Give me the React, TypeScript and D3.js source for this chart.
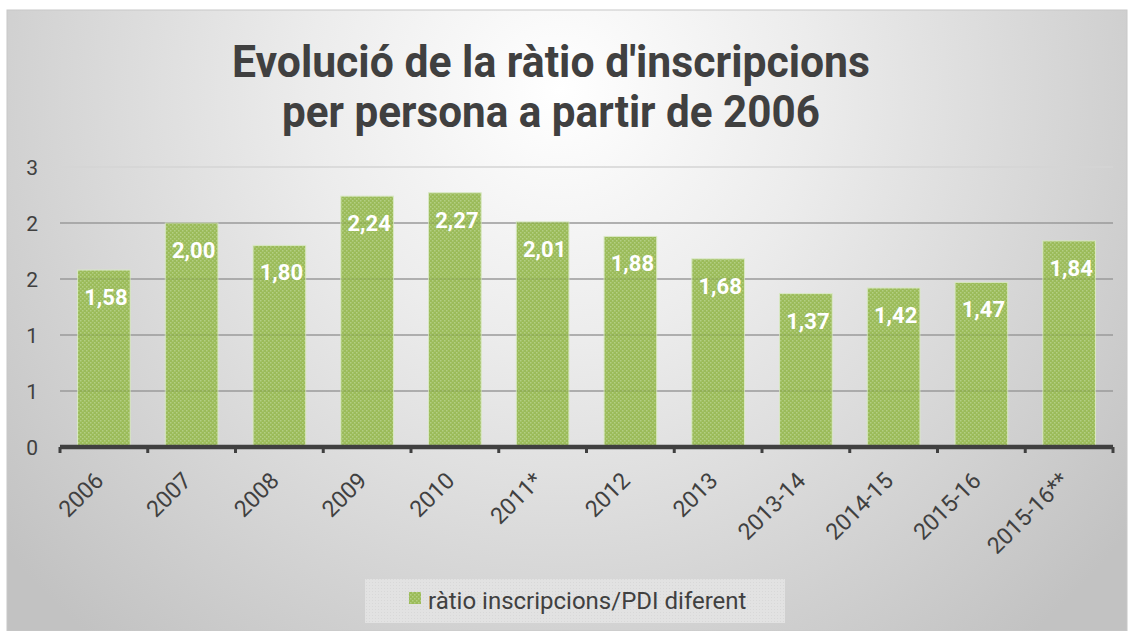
import React from "react";
import * as d3 from "d3";

const categories = ["2006", "2007", "2008", "2009", "2010", "2011*", "2012", "2013", "2013-14", "2014-15", "2015-16", "2015-16**"];
const values = [1.58, 2.0, 1.8, 2.24, 2.27, 2.01, 1.88, 1.68, 1.37, 1.42, 1.47, 1.84];
const yTicks = [0, 0.5, 1, 1.5, 2, 2.5];
const yTickLabels = ["0", "1", "1", "2", "2", "3"];
const titleLines = ["Evolució de la ràtio d'inscripcions", "per persona a partir de 2006"];
const seriesName = "ràtio inscripcions/PDI diferent";

const W = 1134;
const H = 631;
const M = { left: 60, right: 1113, top: 167, bottom: 447 };

export default function App() {
  const x = d3.scaleBand<string>().domain(categories).range([M.left, M.right]).paddingInner(0.4).paddingOuter(0.2);
  const xb = d3.scaleBand<string>().domain(categories).range([M.left, M.right]);
  const y = d3.scaleLinear().domain([0, 2.5]).range([M.bottom, M.top]);
  const fmt = (v: number) => v.toFixed(2).replace(".", ",");
  const font = "Roboto, 'Noto Sans', sans-serif";
  return (
    <div style={{ position: "absolute", left: 0, top: 0 }}>
      <svg width={W} height={H} style={{ display: "block" }}>
        <defs>
          <radialGradient id="bg" cx="560" cy="90" r="720" gradientUnits="userSpaceOnUse">
            <stop offset="0" stopColor="#ffffff" />
            <stop offset="0.35" stopColor="#ececec" />
            <stop offset="1" stopColor="#c2c2c2" />
          </radialGradient>
          <pattern id="dots" width="4" height="4" patternUnits="userSpaceOnUse">
            <rect width="4" height="4" fill="#9bbb59" />
            <rect x="0" y="0" width="1.5" height="1.5" fill="#b3cf83" />
            <rect x="2" y="2" width="1.5" height="1.5" fill="#b3cf83" />
          </pattern>
          <pattern id="ldots" width="3" height="3" patternUnits="userSpaceOnUse">
            <rect width="3" height="3" fill="#e2e2e2" />
            <rect x="0" y="0" width="1" height="1" fill="#d8d8d8" />
          </pattern>
        </defs>
        <rect x={0} y={0} width={W} height={H} fill="#ffffff" />
        <rect x={7} y={10} width={1120} height={621} fill="url(#bg)" stroke="#c8c8c8" strokeWidth={1} />
        {titleLines.map((t, i) => (
          <text key={i} x={551} y={77 + i * 50} textAnchor="middle" fontFamily={font} fontWeight={700} fontSize={44}
            fill="#404040" textLength={i === 0 ? 638 : 538} lengthAdjust="spacingAndGlyphs">{t}</text>
        ))}
        {yTicks.map((t, i) => (
          <line key={"g" + i} x1={M.left} x2={M.right} y1={y(t)} y2={y(t)} stroke={i === 5 ? "#d4d4d4" : "#a8a8a8"} strokeWidth={1.5} />
        ))}
        {yTicks.map((t, i) => (
          <text key={"yl" + i} x={38} y={y(t)} dy="0.36em" textAnchor="end" fontFamily={font} fontSize={21} fill="#404040">{yTickLabels[i]}</text>
        ))}
        {categories.map((c, i) => (
          <g key={"b" + i}>
            <rect x={x(c)} y={y(values[i])} width={x.bandwidth()} height={y(0) - y(values[i])} fill="url(#dots)" stroke="#d9e8c4" strokeWidth={1} />
          </g>
        ))}
        {yTicks.slice(1, 5).map((t, i) => (
          <line key={"go" + i} x1={M.left} x2={M.right} y1={y(t)} y2={y(t)} stroke="#000" strokeOpacity={0.08} strokeWidth={1.5} />
        ))}
        {categories.map((c, i) => (
          <text key={"dl" + i} x={(x(c) as number) + x.bandwidth() / 2 + 2} y={y(values[i]) + 35} textAnchor="middle"
            fontFamily={font} fontWeight={700} fontSize={22} fill="#ffffff">{fmt(values[i])}</text>
        ))}
        <line x1={M.left} x2={M.right} y1={M.bottom} y2={M.bottom} stroke="#404040" strokeWidth={4.5} />
        {categories.concat(["end"]).map((c, i) => {
          const tx = M.left + i * xb.bandwidth();
          return <line key={"t" + i} x1={tx} x2={tx} y1={M.bottom} y2={M.bottom + 6} stroke="#404040" strokeWidth={3} />;
        })}
        {categories.map((c, i) => {
          const cx = (xb(c) as number) + xb.bandwidth() / 2 + 1;
          const cy = M.bottom + 35;
          return (
            <text key={"xl" + i} x={cx} y={cy} textAnchor="end" fontFamily={font} fontSize={23} fill="#404040"
              transform={`rotate(-45 ${cx} ${cy})`}>{c}</text>
          );
        })}
        <rect x={365} y={579} width={420} height={44} fill="url(#ldots)" />
        <rect x={409} y={592} width={12} height={12} fill="url(#dots)" />
        <text x={428} y={609} fontFamily={font} fontSize={24} fill="#404040">{seriesName}</text>
      </svg>
    </div>
  );
}
